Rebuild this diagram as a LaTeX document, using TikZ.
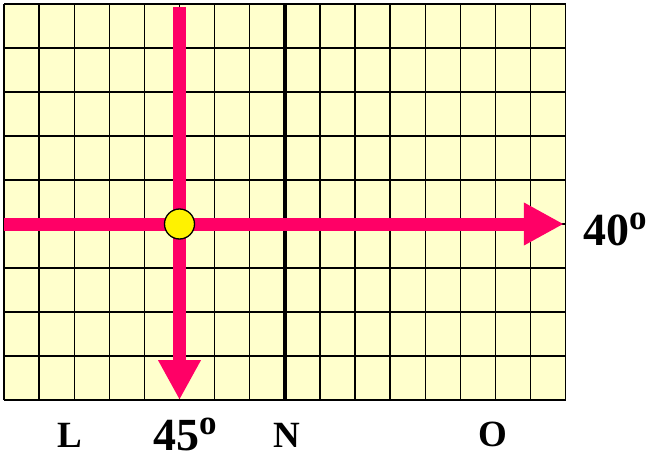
\documentclass[tikz,border=0pt]{standalone}
\usepackage{fontspec}
\setmainfont{Liberation Serif}
\usetikzlibrary{arrows.meta}
\definecolor{gridfill}{HTML}{FFFFCC}
\definecolor{pinkline}{HTML}{FF0066}
\newcommand{\degsign}{\raisebox{16pt}{\fontsize{35}{35}\selectfont o}}

\begin{document}
\begin{tikzpicture}[
    x=1pt, y=1pt,
    gridline/.style={black, line width=1.3pt},
    arrow/.style={-{Triangle[length=40pt,width=40pt]}, pinkline, line width=13pt},
    dot/.style={circle, draw, fill=yellow, line width=1.3pt, minimum size=30pt, inner sep=0pt},
    angle/.style={font=\bfseries\fontsize{46}{46}\selectfont, inner sep=0pt, anchor=base west},
    letter/.style={font=\bfseries\fontsize{37}{37}\selectfont, inner sep=0pt, anchor=base west}
]
\useasboundingbox (0,0) rectangle (649,459);

\begin{scope}[shift={(4,59)}, x=35.1pt, y=44pt]
\fill[gridfill] (0,0) rectangle (16,9);
\foreach \i in {0,...,16} \draw[gridline] (\i,0) -- (\i,9);
\foreach \j in {0,...,9} \draw[gridline] (0,\j) -- (16,\j);
\draw[black, line width=4.5pt] (8,0) -- (8,9);
\coordinate (vtop) at (5,8.93);
\coordinate (vend) at (5,0);
\coordinate (hstart) at (0,4);
\coordinate (hend) at (15.95,4);
\coordinate (cross) at (5,4);
\end{scope}

\draw[arrow] (hstart) -- (hend);
\draw[arrow] (vtop) -- (vend);
\node[dot] (meet) at (cross) {};

\node[angle] (east) at (583,214) {40\degsign};
\node[angle] (south) at (153,9) {45\degsign};
\node[letter] (lL) at (57,12) {L};
\node[letter] (lN) at (273,12) {N};
\node[letter] (lO) at (478,13) {O};
\end{tikzpicture}
\end{document}
